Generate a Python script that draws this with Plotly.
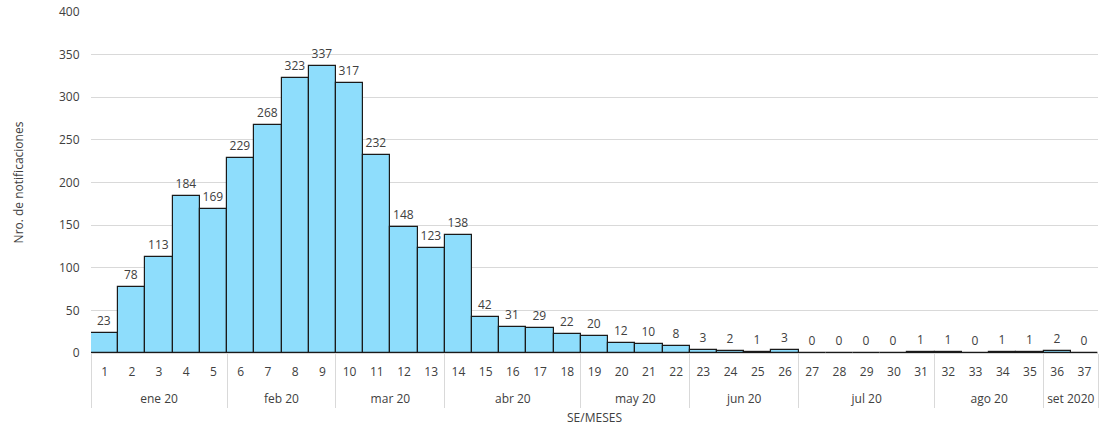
import plotly.graph_objects as go

semanas = [str(i) for i in range(1, 38)]
meses = (["ene 20"] * 5 + ["feb 20"] * 4 + ["mar 20"] * 4 + ["abr 20"] * 5 +
         ["may 20"] * 4 + ["jun 20"] * 4 + ["jul 20"] * 5 + ["ago 20"] * 4 +
         ["set 2020"] * 2)
notificaciones = [23, 78, 113, 184, 169, 229, 268, 323, 337, 317, 232, 148, 123,
                  138, 42, 31, 29, 22, 20, 12, 10, 8, 3, 2, 1, 3, 0, 0, 0, 0,
                  1, 1, 0, 1, 1, 2, 0]
y_ticks = [0, 50, 100, 150, 200, 250, 300, 350, 400]

FONT = "Open Sans"

# extra blank line under each week label gives room between the two label rows
semana_labels = [s + "<br>\u00a0" for s in semanas]

fig = go.Figure(go.Bar(
    x=[meses, semana_labels],
    y=notificaciones,
    text=[str(v) for v in notificaciones],
    textposition="outside",
    textfont=dict(family=FONT, size=12, color="#404040"),
    marker=dict(color="#8EDDFC", line=dict(color="#1a1a1a", width=1.2)),
    cliponaxis=False,
    hoverinfo="y",
))

fig.update_layout(
    width=1100, height=428,
    margin=dict(l=91, r=2, t=12, b=75, autoexpand=False),
    paper_bgcolor="white", plot_bgcolor="white",
    bargap=0,
    showlegend=False,
    font=dict(family=FONT, size=12, color="#595959"),
)
fig.update_xaxes(
    type="multicategory",
    automargin=False,
    showdividers=True, dividercolor="#d9d9d9", dividerwidth=1,
    showline=True, linecolor="#d9d9d9", linewidth=1,
    ticklabelstandoff=8,
    tickfont=dict(family=FONT, size=12, color="#404040"),
    title=dict(text="SE/MESES", font=dict(family=FONT, size=12, color="#404040"), standoff=7),
    showgrid=False,
)
fig.update_yaxes(
    automargin=False,
    range=[0, 400], tickvals=y_ticks,
    showgrid=True, gridcolor="#d9d9d9", gridwidth=1,
    zeroline=False,
    ticks="outside", ticklen=8, tickcolor="rgba(0,0,0,0)",
    tickfont=dict(family=FONT, size=12, color="#404040"),
    title=dict(text="Nro. de notificaciones", font=dict(family=FONT, size=12, color="#404040"), standoff=32),
)

fig.write_html("out.html", config={"displayModeBar": False},
               post_script="document.body.style.margin='0';")
